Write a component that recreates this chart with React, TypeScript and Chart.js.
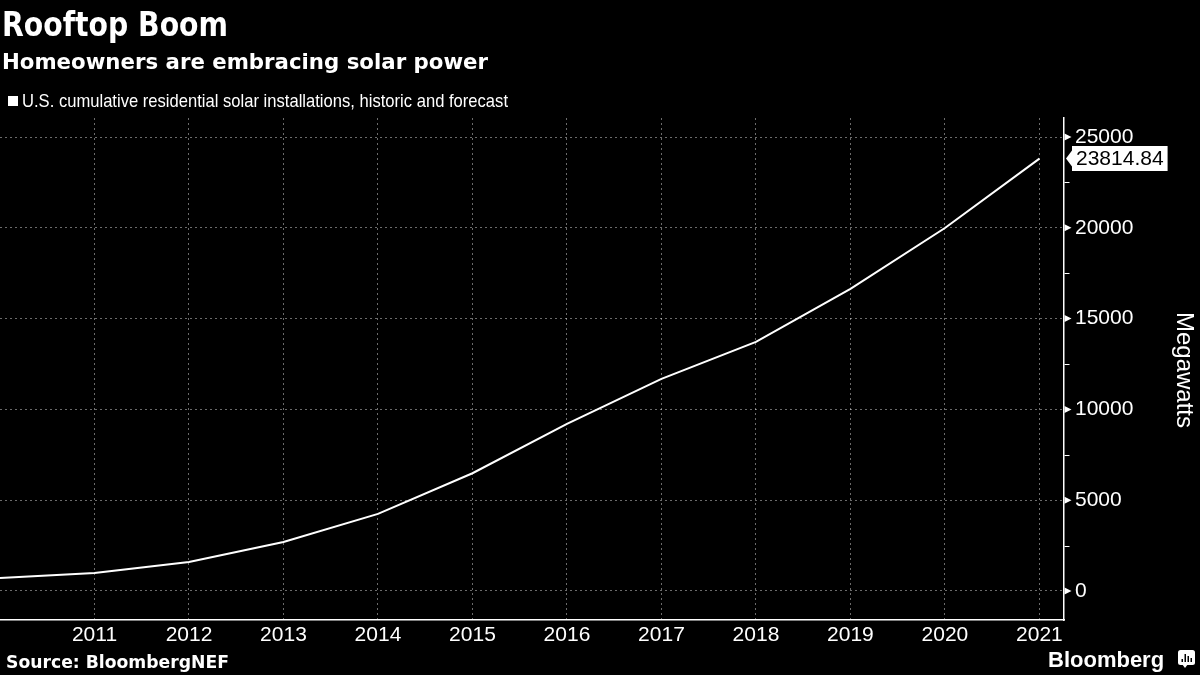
import React, { useEffect, useRef } from 'react';
import { Chart, registerables } from 'chart.js';

Chart.register(...registerables);

const TITLE = 'Rooftop Boom';
const SUBTITLE = 'Homeowners are embracing solar power';
const LEGEND_LABEL = 'U.S. cumulative residential solar installations, historic and forecast';
const SOURCE = 'Source: BloombergNEF';
const BRAND = 'Bloomberg';
const Y_TITLE = 'Megawatts';

const years = [2010, 2011, 2012, 2013, 2014, 2015, 2016, 2017, 2018, 2019, 2020, 2021];
const megawatts = [716, 992, 1598, 2692, 4247, 6484, 9200, 11680, 13719, 16639, 19990, 23814.84];

const xTickValues = [2011, 2012, 2013, 2014, 2015, 2016, 2017, 2018, 2019, 2020, 2021];
const yTickValues = [0, 5000, 10000, 15000, 20000, 25000];
const yMinorTickValues = [2500, 7500, 12500, 17500, 22500];

const X_MIN = 2010;
const X_MAX = 2021.26;
const Y_MIN = -1600;
const Y_MAX = 26050;

const overlayPlugin = {
  id: 'overlay',
  afterDraw(chart: any) {
    const ctx = chart.ctx as CanvasRenderingContext2D;
    const area = chart.chartArea;
    const ys = chart.scales.y;
    ctx.save();
    ctx.fillStyle = '#ffffff';
    ctx.textAlign = 'left';
    ctx.textBaseline = 'alphabetic';

    // Title & subtitle
    ctx.font = 'bold 34px "DejaVu Sans", "Liberation Sans", sans-serif';
    ctx.fillText(TITLE, 2, 36, 226);
    ctx.font = 'bold 22px "DejaVu Sans", sans-serif';
    ctx.fillText(SUBTITLE, 2, 69, 486);

    // Legend
    ctx.fillRect(8, 96, 10, 10);
    ctx.font = '19px "Liberation Sans Narrow", "Liberation Sans", sans-serif';
    ctx.fillText(LEGEND_LABEL, 22, 107, 486);

    // Source
    ctx.font = 'bold 17.5px "DejaVu Sans", sans-serif';
    ctx.fillText(SOURCE, 6, 668, 223);

    // Brand
    ctx.font = 'bold 22px "Liberation Sans", Arial, sans-serif';
    ctx.fillText(BRAND, 1048, 667, 120);
    // Brand icon
    ctx.beginPath();
    ctx.roundRect(1178, 650, 17, 15, 2.5);
    ctx.fill();
    ctx.beginPath();
    ctx.moveTo(1182, 664);
    ctx.lineTo(1188, 664);
    ctx.lineTo(1185, 668);
    ctx.closePath();
    ctx.fill();
    ctx.fillStyle = '#000';
    ctx.fillRect(1181.5, 659, 1.5, 3);
    ctx.fillRect(1184.5, 654, 1.5, 8);
    ctx.fillRect(1187.5, 656, 1.5, 6);
    ctx.fillRect(1190.5, 658, 1.5, 4);
    ctx.fillStyle = '#ffffff';

    // Y axis title
    ctx.save();
    ctx.translate(1184, 370);
    ctx.rotate(Math.PI / 2);
    ctx.textAlign = 'center';
    ctx.textBaseline = 'middle';
    ctx.font = '24px "Liberation Sans", Arial, sans-serif';
    ctx.fillText(Y_TITLE, 0, 0);
    ctx.restore();

    // Y axis markers
    const ax = area.right + 0.5;
    yTickValues.forEach((v) => {
      const py = ys.getPixelForValue(v);
      ctx.beginPath();
      ctx.moveTo(ax, py - 3.5);
      ctx.lineTo(ax + 7, py);
      ctx.lineTo(ax, py + 3.5);
      ctx.closePath();
      ctx.fill();
    });
    ctx.strokeStyle = '#ffffff';
    ctx.lineWidth = 1;
    yMinorTickValues.forEach((v) => {
      const py = Math.round(ys.getPixelForValue(v)) + 0.5;
      ctx.beginPath();
      ctx.moveTo(ax, py);
      ctx.lineTo(ax + 5, py);
      ctx.stroke();
    });

    // Last value label
    const meta = chart.getDatasetMeta(0);
    const last = meta.data[meta.data.length - 1];
    const lastVal = megawatts[megawatts.length - 1];
    const ly = last.y;
    ctx.font = '21px "Liberation Sans", Arial, sans-serif';
    const txt = String(lastVal);
    const tw = ctx.measureText(txt).width;
    const bx0 = area.right + 8;
    const bx1 = bx0 + tw + 8;
    ctx.fillStyle = '#ffffff';
    ctx.beginPath();
    ctx.moveTo(area.right + 2, ly);
    ctx.lineTo(bx0, ly - 8);
    ctx.lineTo(bx0, ly - 12.5);
    ctx.lineTo(bx1, ly - 12.5);
    ctx.lineTo(bx1, ly + 12.5);
    ctx.lineTo(bx0, ly + 12.5);
    ctx.lineTo(bx0, ly + 8);
    ctx.closePath();
    ctx.fill();
    ctx.fillStyle = '#000000';
    ctx.textBaseline = 'middle';
    ctx.fillText(txt, bx0 + 4, ly + 1);

    ctx.restore();
  },
};

export default function App() {
  const canvasRef = useRef<HTMLCanvasElement | null>(null);

  useEffect(() => {
    const canvas = canvasRef.current;
    if (!canvas) return;
    const tickFont = { family: '"Liberation Sans", Arial, sans-serif', size: 21 };
    const gridColor = 'rgba(255,255,255,0.42)';
    const chart = new Chart(canvas, {
      type: 'line',
      data: {
        datasets: [
          {
            label: LEGEND_LABEL,
            data: years.map((yr, i) => ({ x: yr, y: megawatts[i] })),
            borderColor: '#ffffff',
            borderWidth: 2,
            pointRadius: 0,
            tension: 0,
            fill: false,
          },
        ],
      },
      options: {
        animation: false,
        responsive: false,
        devicePixelRatio: 1,
        layout: { padding: { top: 118, left: 0, right: 0, bottom: 0 } },
        plugins: {
          legend: { display: false },
          tooltip: { enabled: false },
          title: { display: false },
        },
        scales: {
          x: {
            type: 'linear',
            min: X_MIN,
            max: X_MAX,
            afterBuildTicks: (s: any) => {
              s.ticks = xTickValues.map((v) => ({ value: v }));
            },
            afterFit: (s: any) => {
              s.height = 55;
            },
            ticks: {
              color: '#ffffff',
              font: tickFont,
              padding: 3,
              maxRotation: 0,
              autoSkip: false,
              callback: (v: any) => String(v),
            },
            grid: { color: gridColor, lineWidth: 1, drawTicks: false },
            border: { display: true, color: '#ffffff', width: 1.5, dash: [2, 3] },
          },
          y: {
            type: 'linear',
            position: 'right',
            min: Y_MIN,
            max: Y_MAX,
            afterBuildTicks: (s: any) => {
              s.ticks = yTickValues.map((v) => ({ value: v }));
            },
            afterFit: (s: any) => {
              s.width = 136;
            },
            ticks: {
              color: '#ffffff',
              font: tickFont,
              padding: 11,
              autoSkip: false,
              callback: (v: any) => String(v),
            },
            grid: { color: gridColor, lineWidth: 1, drawTicks: false },
            border: { display: true, color: '#ffffff', width: 1.5, dash: [2, 3] },
          },
        },
      },
      plugins: [overlayPlugin],
    });
    return () => chart.destroy();
  }, []);

  return (
    <div
      style={{
        position: 'fixed',
        left: 0,
        top: 0,
        width: 1200,
        height: 675,
        background: '#000000',
        overflow: 'hidden',
      }}
    >
      <canvas ref={canvasRef} width={1200} height={675} style={{ display: 'block', width: 1200, height: 675 }} />
    </div>
  );
}
